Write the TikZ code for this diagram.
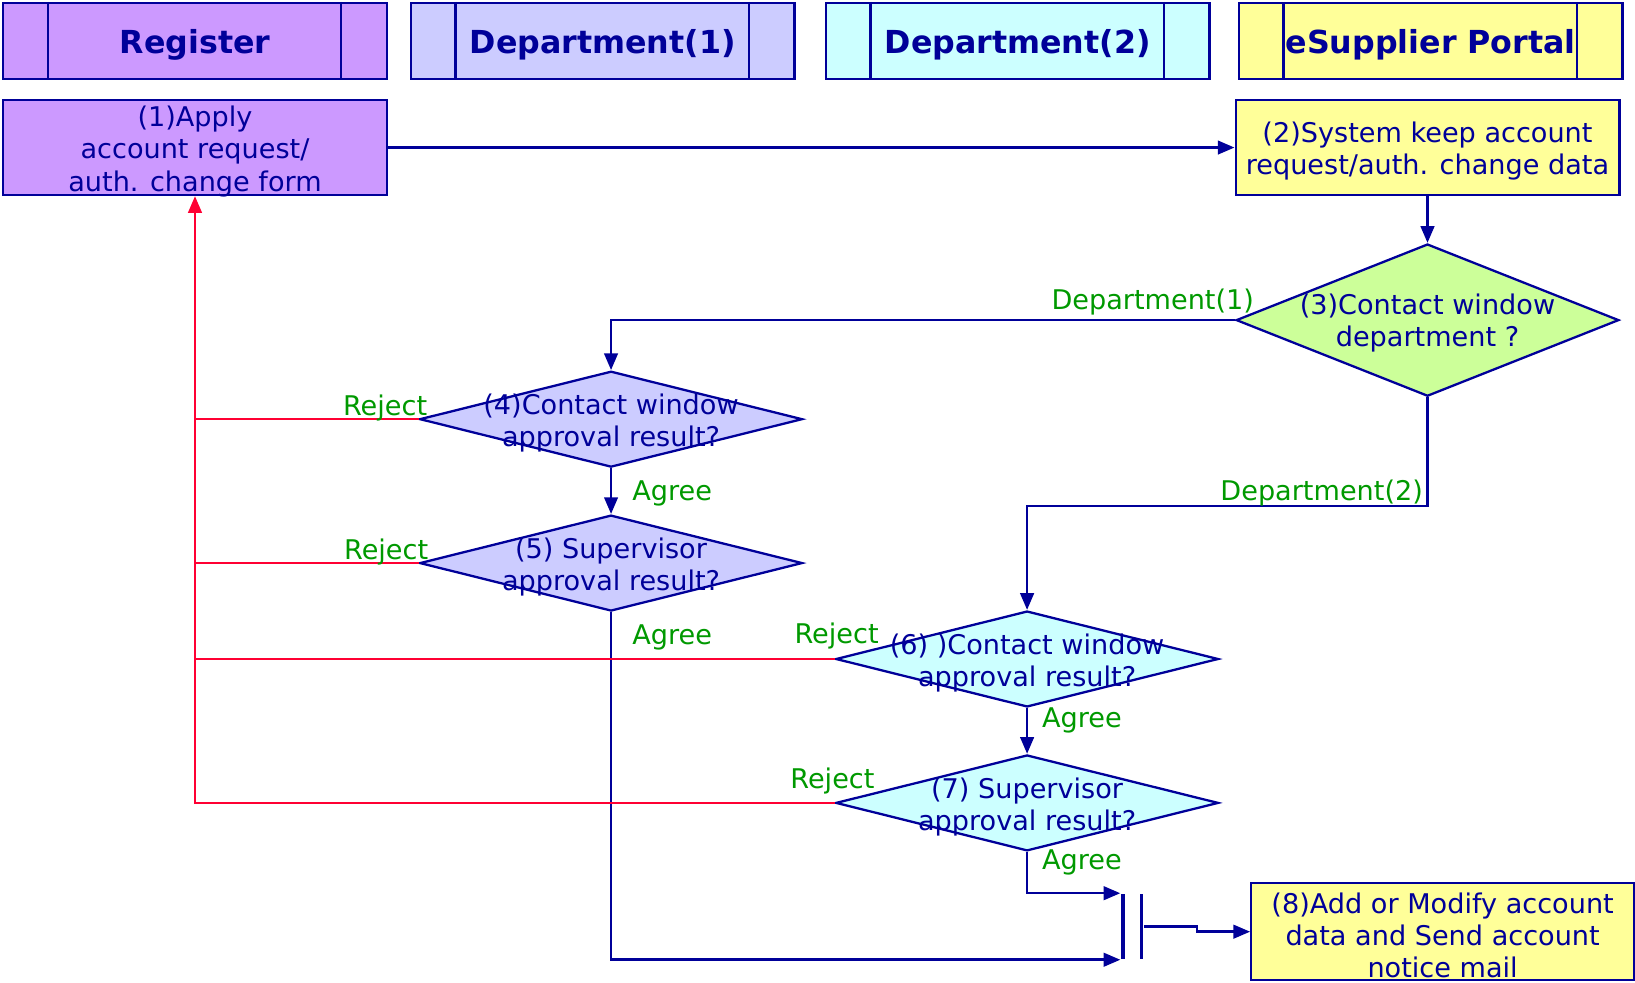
\documentclass[tikz,border=0pt]{standalone}
\usepackage{fontspec}
\setmainfont{DejaVu Sans}
\usetikzlibrary{arrows.meta,shapes.geometric,calc}
\definecolor{navy}{HTML}{000099}
\definecolor{fpurple}{HTML}{CC99FF}
\definecolor{fblue}{HTML}{CCCCFF}
\definecolor{fcyan}{HTML}{CCFFFF}
\definecolor{fyellow}{HTML}{FFFF99}
\definecolor{fgreen}{HTML}{CCFF99}
\definecolor{lgreen}{HTML}{009900}
\definecolor{rred}{HTML}{FF0033}
\begin{document}
\begin{tikzpicture}[x=0.5pt,y=-0.5pt,
  hdr/.style={draw=navy,line width=1.1pt,minimum width=184pt,minimum height=36.5pt,inner sep=0pt},
  hdrtext/.style={inner sep=0pt,font=\fontsize{15.2}{18}\selectfont\bfseries,text=navy},
  procbox/.style={draw=navy,line width=1.1pt,minimum width=184pt,minimum height=45.5pt,inner sep=0pt},
  dia/.style={diamond,draw=navy,line width=1.1pt,inner sep=0pt,minimum width=183.5pt,minimum height=46pt},
  dtext/.style={align=center,font=\fontsize{13}{15.5}\selectfont,text=navy,inner sep=0pt},
  lbl/.style={font=\fontsize{13}{15.5}\selectfont,text=lgreen,inner sep=0pt},
  conn/.style={draw=navy,line width=1.2pt,-{Triangle[length=8pt,width=6.5pt]}},
  plain/.style={draw=navy,line width=1.1pt},
  rej/.style={draw=rred,line width=1.2pt},
  rejarr/.style={draw=rred,line width=1.2pt,-{Triangle[length=8pt,width=6.5pt]}},
  barnode/.style={fill=navy,inner sep=0pt,minimum height=31.5pt}
]
\useasboundingbox (0,0) rectangle (1568,942);

% headers
\node[hdr,fill=fpurple] (h1) at (187,39.5) {};
\node[hdr,fill=fblue] (h2) at (578,39.5) {};
\node[hdr,fill=fcyan] (h3) at (976,39.5) {};
\node[hdr,fill=fyellow] (h4) at (1372,39.5) {};
\foreach \h in {h1,h2,h3,h4}{
  \draw[plain] ([xshift=22pt]\h.north west) -- ([xshift=22pt]\h.south west);
  \draw[plain] ([xshift=-22.5pt]\h.north east) -- ([xshift=-22.5pt]\h.south east);
}
\node[hdrtext,anchor=base] (ht1) at (187,51) {Register};
\node[hdrtext,anchor=base] (ht2) at (578,51) {Department(1)};
\node[hdrtext,anchor=base] (ht3) at (976,51) {Department(2)};
\node[hdrtext,anchor=base] (ht4) at (1372,51) {eSupplier Portal};

% process boxes
\node[procbox,fill=fpurple] (b1) at (187,141.5) {};
\node[dtext] (tb1) at (187,145) {(1)Apply\\account request/\\auth. change form};
\node[procbox,fill=fyellow] (b2) at (1369,141.5) {};
\node[dtext] (tb2) at (1369,145) {(2)System keep account\\request/auth. change data};
\node[procbox,fill=fyellow,minimum width=183.5pt,minimum height=46.5pt] (b8) at (1383.5,893.5) {};
\node[dtext] (tb8) at (1383.5,897) {(8)Add or Modify account\\data and Send account\\notice mail};

% decisions
\node[dia,fill=fgreen,minimum height=73pt] (d3) at (1369,307) {};
\node[dtext] (t3) at (1369,310) {(3)Contact window\\department ?};
\node[dia,fill=fblue] (d4) at (586,402) {};
\node[dtext] (t4) at (586,406) {(4)Contact window\\approval result?};
\node[dia,fill=fblue] (d5) at (586,540) {};
\node[dtext] (t5) at (586,544) {(5) Supervisor\\approval result?};
\node[dia,fill=fcyan] (d6) at (985,632) {};
\node[dtext] (t6) at (985,636) {(6) )Contact window\\approval result?};
\node[dia,fill=fcyan] (d7) at (985,770) {};
\node[dtext] (t7) at (985,774) {(7) Supervisor\\approval result?};

% join bars
\node[barnode,minimum width=2.2pt] (bar1) at (1077,888.5) {};
\node[barnode,minimum width=1.6pt] (bar2) at (1095,888.5) {};
\coordinate (jstep) at (1148,888.5);

% connectors
\draw[conn] (b1) -- (b2);
\draw[conn] (b2) -- (d3);
\draw[conn] (d3.west) -| (d4.north);
\draw[conn] (d3.south) -- ++(0,104) -| (d6.north);
\draw[conn] (d4.south) -- (d5.north);
\draw[conn] (d6.south) -- (d7.north);
\draw[conn] (d5.south) |- (bar1.south west);
\draw[conn] (d7.south) |- (bar1.north west);
\draw[conn] (bar2.east) -- (jstep) |- (b8.west);

% reject lines
\draw[rej] (d4.west) -- (d4.west -| b1.south);
\draw[rej] (d5.west) -- (d5.west -| b1.south);
\draw[rej] (d6.west) -- (d6.west -| b1.south);
\draw[rejarr] (d7.west) -- (d7.west -| b1.south) -- (b1.south);

% labels
\node[lbl,anchor=base east] (l31) at (1203,297) {Department(1)};
\node[lbl,anchor=base east] (l32) at (1365,480) {Department(2)};
\node[lbl,anchor=base west] (a4) at (606,480) {Agree};
\node[lbl,anchor=base west] (a5) at (606,618) {Agree};
\node[lbl,anchor=base west] (a6) at (999,698) {Agree};
\node[lbl,anchor=base west] (a7) at (999,834) {Agree};
\node[lbl,anchor=base east] (r4) at (410,398) {Reject};
\node[lbl,anchor=base east] (r5) at (411,537) {Reject};
\node[lbl,anchor=base east] (r6) at (843,617) {Reject};
\node[lbl,anchor=base east] (r7) at (839,756) {Reject};
\end{tikzpicture}
\end{document}
